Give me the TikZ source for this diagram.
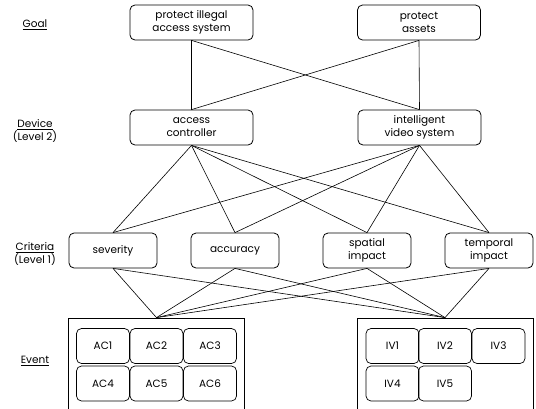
\documentclass[tikz,border=0pt]{standalone}
\usepackage{fontspec}
\setmainfont{Poppins}

\begin{document}
\begin{tikzpicture}[x=1pt,y=-1pt,block/.style={draw, rectangle, rounded corners=5pt, line width=0.8pt, minimum width=123pt, minimum height=35pt, align=center, inner sep=1pt, font=\fontsize{10.5}{13}\selectfont}]
            \tikzset{crit/.style = {block, minimum width=88pt}}
            \tikzset{evbox/.style = {draw, rectangle, line width=0.8pt, minimum width=176pt, minimum height=97pt}}
            \tikzset{ev/.style = {draw, rounded corners=5pt, line width=0.7pt, minimum width=53pt, minimum height=35pt, inner sep=0pt, font=\fontsize{10.5}{13}\selectfont}}
            \tikzset{edge/.style = {line width=0.6pt}}
            \tikzset{lvl/.style = {align=center, font=\fontsize{10.5}{13}\selectfont}}

            \useasboundingbox (0,0) rectangle (536,408);

            \node[lvl] (lgoal) at (35,25) {\underline{Goal}};
            \node[lvl] (ldev) at (35,131) {\underline{Device}\\(Level 2)};
            \node[lvl] (lcrit) at (35,254) {\underline{Criteria}\\(Level 1)};
            \node[lvl] (lev) at (35,361) {\underline{Event}};

            \node[block] (illegal) at (191.5,22.5) {protect illegal\\access system};
            \node[block] (assets) at (419,22.5) {protect\\assets};

            \node[block] (access) at (191.5,127.5) {access\\controller};
            \node[block] (video) at (419.5,127.5) {intelligent\\video system};

            \node[crit] (severity) at (113,250.5) {severity};
            \node[crit] (accuracy) at (235,250.5) {accuracy};
            \node[crit] (spatial) at (367,250.5) {spatial\\impact};
            \node[crit] (temporal) at (489,250.5) {temporal\\impact};

            \node[evbox] (acev) at (156.5,366.5) {};
            \node[evbox] (ivev) at (445,366.5) {};

            \node[ev] (ac1) at (103,346) {AC1};
            \node[ev] (ac2) at (156.5,346) {AC2};
            \node[ev] (ac3) at (210,346) {AC3};
            \node[ev] (ac4) at (103,383.5) {AC4};
            \node[ev] (ac5) at (156.5,383.5) {AC5};
            \node[ev] (ac6) at (210,383.5) {AC6};

            \node[ev] (iv1) at (392.5,346) {IV1};
            \node[ev] (iv2) at (445,346) {IV2};
            \node[ev] (iv3) at (498.5,346) {IV3};
            \node[ev] (iv4) at (392.5,383.5) {IV4};
            \node[ev] (iv5) at (445,383.5) {IV5};

            \foreach \g in {illegal,assets}
                \foreach \d in {access,video}
                    \draw[edge] (\g.south) -- (\d.north);
            \foreach \d in {access,video}
                \foreach \c in {severity,accuracy,spatial,temporal}
                    \draw[edge] (\d.south) -- (\c.north);
            \foreach \c in {severity,accuracy,spatial,temporal}
                \foreach \e in {acev,ivev}
                    \draw[edge] (\c.south) -- (\e.north);
            \end{tikzpicture}
\end{document}
